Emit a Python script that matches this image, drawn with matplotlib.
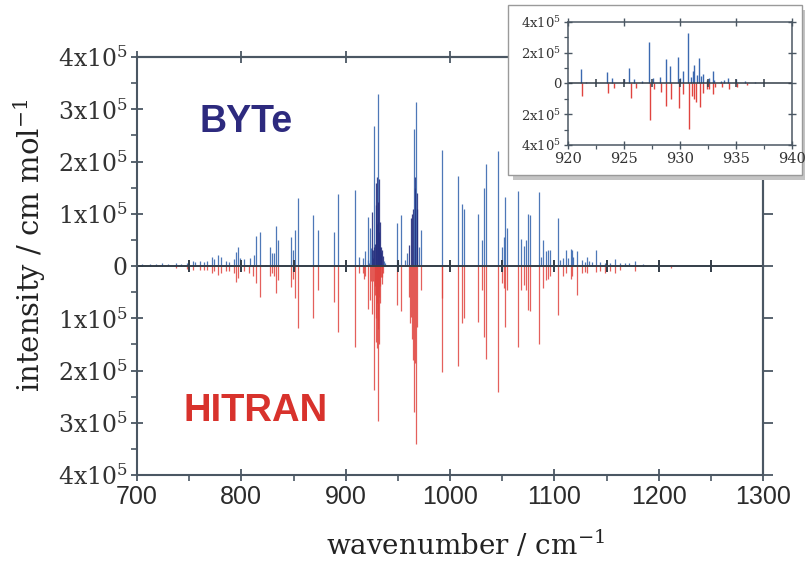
import numpy as np
import matplotlib
matplotlib.use("Agg")
import matplotlib.pyplot as plt
from matplotlib.patches import Rectangle
from matplotlib.ticker import MultipleLocator, FuncFormatter

plt.rcParams['mathtext.fontset'] = 'dejavuserif'

# BYTe line list (wavenumber / cm-1, intensity)
byte_wn = [705, 712, 718, 724, 730, 737.7, 742, 748, 753.7, 756, 760, 763.9, 767, 771.6, 774, 778, 780.5,
           785.6, 788.5, 792.7, 794.9, 796.8, 799, 802.9, 808.6, 811.8, 814.4, 817.6,
           827.8, 829, 831.6, 833.2, 835.1, 847.9, 849.2, 851.7, 854.3, 868.4, 873.2, 888.5, 893, 908.6,
           912.5, 916.3, 918.8,
           921.13, 921.61, 922.3, 923.45, 923.9, 925.0, 925.48, 925.89, 926.64, 927.26, 927.62, 928.21,
           928.72, 929.11, 929.85, 930.0, 930.24, 930.74, 930.95, 931.13, 931.28, 931.49, 931.73, 931.88,
           932.08, 932.38, 932.59, 932.92, 933.04, 933.67, 933.96, 934.32, 935.0, 935.8, 936.7, 937.5,
           948.8, 950.5, 952.7, 956.8, 958.5, 961, 962.6, 963.4, 964.2, 965.5, 966.0, 966.4, 967.4, 967.9,
           968.7, 970, 972.5,
           992.6, 1007.3, 1011.2, 1013.1, 1027.1, 1030.3, 1032.3, 1034.2, 1046.3, 1049.5, 1051.3, 1053,
           1054.6, 1065.5, 1068, 1070.6, 1072.5, 1074.4, 1076.3, 1085.3, 1087.2, 1089.4, 1091.6, 1093.6,
           1095.8, 1103.6, 1105.5, 1108, 1110.9, 1113.5, 1115.7, 1117, 1118.3, 1122.1, 1126.2, 1129.1,
           1131.7, 1133.6, 1135.8, 1139.7, 1143.8, 1148.6, 1153.4, 1158.2, 1163, 1168, 1172, 1177.4, 1185]
byte_int = [3000, 4000, 3500, 5000, 4000, 5000, 4000, 6000, 10000, 8000, 9000, 8000, 9000, 16600, 14000, 21000, 18000,
            10000, 8000, 14000, 27000, 37000, 15000, 13000, 15000, 22000, 58000, 66000,
            37000, 24000, 24000, 76600, 50000, 56000, 30000, 69000, 131000, 97600, 69000, 66000, 137000, 145000,
            18000, 15000, 29000,
            94600, 10750, 5000, 73000, 34400, 30000, 103000, 30000, 15000, 267000, 36500, 43000,
            159000, 116000, 170000, 36500, 80000, 330000, 43000, 84000, 122000, 58000, 166000, 47000,
            65000, 26000, 36500, 84000, 26000, 15000, 26000, 36500, 30000, 19000, 10000, 6000,
            82000, 8000, 98000, 11000, 24000, 40000, 91000, 100000, 110000, 263000, 150000, 171000, 313000, 140000,
            110000, 37000, 69000,
            222000, 173000, 119000, 109000, 99000, 50000, 150000, 196000, 220000, 37000, 56000, 133000,
            72000, 144000, 52000, 39000, 50000, 99000, 98000, 142000, 18000, 50000, 29000, 31000,
            31000, 91000, 11000, 15000, 31000, 15000, 32000, 31000, 18000, 29000, 11000, 8000,
            18000, 9600, 8000, 31000, 8000, 5000, 6000, 13400, 5000, 5000, 5000, 9600, 3000]

# HITRAN line list
hitran_wn = [737.7, 748, 753.7, 760, 763.9, 767, 771.6, 774, 778, 780.5, 785.6, 788.5, 792.7, 794.9, 796.8,
             802.9, 807, 811.2, 814.4, 817.6,
             827.8, 829, 831.6, 833.2, 835.1, 847.9, 849.2, 851.7, 854.3, 868.4, 873.2, 888.5, 893, 908.6,
             912.5, 916.3, 917.5, 918.8,
             921.25, 923.6, 924.11, 925.6, 926.07, 927.32, 927.71, 928.27, 928.75, 929.17, 929.91, 930.3,
             930.8, 931.04, 931.25, 931.43, 931.79, 932.08, 932.38, 932.59, 932.98, 933.13, 933.72, 934.4,
             935.06, 935.95,
             948.8, 952.7, 960.5, 961.5, 962.6, 963.3, 964.2, 965.5, 966.4, 967.4, 968.7, 972.5,
             992.0, 992.6, 1007.3, 1011.2, 1013.1, 1027.1, 1030.3, 1032.3, 1034.2, 1046.3, 1049.5, 1051.3,
             1053, 1054.6, 1065.5, 1068, 1070.6, 1072.5, 1074.4, 1076.3, 1085.3, 1089.4, 1091.6, 1093.6,
             1095.8, 1103.6, 1108, 1110.9, 1115.7, 1117, 1122.1, 1126.2, 1129.1, 1131.7, 1139.7, 1143.8,
             1148.6, 1153.4, 1158.2, 1163, 1177.4, 1212]
hitran_int = [4500, 6400, 7600, 7600, 7600, 7600, 14000, 9000, 17000, 14000, 9000, 9000, 14000, 30000, 23600,
              9000, 14000, 20000, 33000, 59000,
              20000, 14000, 20000, 51000, 27000, 40000, 24000, 62000, 118000, 100000, 46000, 68000, 126000, 155000,
              13000, 14000, 24000, 20000,
              81700, 64500, 28000, 92000, 28000, 236500, 38700, 55900, 146000, 99000, 157000, 71000,
              297000, 81700, 103000, 120000, 150000, 60000, 34000, 38700, 71000, 21500, 21500, 34400,
              21500, 13000,
              75000, 87000, 60000, 110000, 97000, 140000, 180000, 279000, 186000, 340000, 116000, 46000,
              62000, 202000, 192000, 110000, 100000, 107000, 46000, 135000, 178000, 241000, 33000, 43000,
              116000, 46000, 155000, 46000, 36000, 46000, 84000, 87000, 150000, 43000, 27000, 24000,
              20000, 94000, 20000, 14000, 24000, 20000, 55000, 14000, 11000, 14000, 11000, 9000,
              14000, 9000, 14000, 8000, 9000, 3000]

blue = '#3b69b0'
navy = '#27307f'
red = '#e0443f'
frame = '#4b5763'

byte_wn = np.array(byte_wn)
byte_int = np.array(byte_int)
hitran_wn = np.array(hitran_wn)
hitran_int = np.array(hitran_int)


def ylab(v, pos):
    if abs(v) < 1:
        return '0'
    return r'$%d\mathrm{x}10^{\mathregular{5}}$' % round(abs(v) / 1e5)


# dense band centres drawn darker, as in the original figure
dense = (((byte_wn > 925) & (byte_wn < 936)) | ((byte_wn > 960) & (byte_wn < 970))) & (byte_int < 200000)
byte_cols = [navy if d else blue for d in dense]

fig = plt.figure(figsize=(8.05, 5.67), dpi=100)
ax = fig.add_axes([137 / 805, 1 - 475 / 567, 626 / 805, 418 / 567])

ax.vlines(byte_wn, 0, byte_int, colors=byte_cols, lw=0.9, alpha=0.9)
ax.vlines(hitran_wn, 0, -hitran_int, colors=red, lw=0.9, alpha=0.85)
ax.axhline(0, color='#333d48', lw=1.4)
zt = np.arange(750, 1300, 50)
ax.plot(zt, np.zeros_like(zt), ls='none', marker='|', ms=9, mew=1.4, color='#333d48')

ax.set_xlim(700, 1300)
ax.set_ylim(-4e5, 4e5)
ax.xaxis.set_major_locator(MultipleLocator(100))
ax.xaxis.set_minor_locator(MultipleLocator(50))
ax.yaxis.set_major_locator(MultipleLocator(1e5))
ax.yaxis.set_minor_locator(MultipleLocator(0.5e5))
ax.yaxis.set_major_formatter(FuncFormatter(ylab))
for s in ax.spines.values():
    s.set_color(frame)
    s.set_linewidth(1.5)
ax.tick_params(which='major', direction='inout', length=9, width=1.3, color=frame, top=False, right=False)
ax.tick_params(which='minor', direction='out', length=4, width=1.2, color=frame, top=False, right=False)
ax.tick_params(axis='y', labelsize=17, labelcolor='#333333', pad=2)
ax.tick_params(axis='x', labelsize=18, labelcolor='#2b2b2b', pad=3)
for t in ax.get_xticklabels():
    t.set_family('Liberation Sans')
for t in ax.get_yticklabels():
    t.set_family('DejaVu Serif')

sec_r = ax.secondary_yaxis('right')
sec_r.yaxis.set_major_locator(MultipleLocator(1e5))
sec_r.tick_params(direction='out', length=7, width=1.3, color=frame, labelright=False)
sec_r.spines['right'].set_color(frame)
sec_r.spines['right'].set_linewidth(1.5)
sec_t = ax.secondary_xaxis('top')
sec_t.xaxis.set_major_locator(MultipleLocator(100))
sec_t.tick_params(direction='inout', length=9, width=1.3, color=frame, labeltop=False)
sec_t.spines['top'].set_color(frame)
sec_t.spines['top'].set_linewidth(1.5)

ax.set_xlabel(r'wavenumber / cm$^{-1}$', family='DejaVu Serif', fontsize=20, color='#222222')
ax.set_ylabel(r'intensity / cm mol$^{-1}$', family='DejaVu Serif', fontsize=21, color='#222222')
ax.xaxis.set_label_coords((465 - 137) / 626, -(530 - 475) / 418)
ax.yaxis.set_label_coords(-(137 - 48) / 626, (475 - 245) / 418)

ax.text(0.174, 0.845, 'BYTe', transform=ax.transAxes, ha='center', va='center',
        fontsize=27, fontweight='bold', family='Liberation Sans', color='#2d2a7e')
ax.text(0.19, 0.153, 'HITRAN', transform=ax.transAxes, ha='center', va='center',
        fontsize=27.5, fontweight='bold', family='Liberation Sans', color='#d8322c')

# inset frame with shadow
fig.patches.append(Rectangle((513 / 805, 1 - 180 / 567), 294 / 805, 170 / 567, transform=fig.transFigure,
                             facecolor='#c4c4c4', edgecolor='none', zorder=1))
fig.patches.append(Rectangle((508 / 805, 1 - 175 / 567), 294 / 805, 170 / 567, transform=fig.transFigure,
                             facecolor='white', edgecolor='#9a9a9a', lw=1.0, zorder=1.1))

axi = fig.add_axes([568 / 805, 1 - 145 / 567, 224 / 805, 123 / 567], zorder=2)
sel = (byte_wn > 919) & (byte_wn < 941)
axi.vlines(byte_wn[sel], 0, byte_int[sel], colors=blue, lw=1.0)
sel = (hitran_wn > 919) & (hitran_wn < 941)
axi.vlines(hitran_wn[sel], 0, -hitran_int[sel], colors=red, lw=1.0)
axi.axhline(0, color='#333d48', lw=1.1)
zt = np.arange(922.5, 940, 2.5)
axi.plot(zt, np.zeros_like(zt), ls='none', marker='|', ms=6, mew=1.1, color='#333d48')
axi.set_xlim(920, 940)
axi.set_ylim(-4e5, 4e5)
axi.xaxis.set_major_locator(MultipleLocator(5))
axi.xaxis.set_minor_locator(MultipleLocator(2.5))
axi.yaxis.set_major_locator(MultipleLocator(2e5))
axi.yaxis.set_minor_locator(MultipleLocator(1e5))
axi.yaxis.set_major_formatter(FuncFormatter(ylab))
for s in axi.spines.values():
    s.set_color(frame)
    s.set_linewidth(1.1)
axi.tick_params(which='major', direction='inout', length=6, width=1.0, color=frame, top=True, right=True,
                labelsize=9.5, labelcolor='#333333', pad=2)
axi.tick_params(axis='x', labelsize=10.5)
axi.tick_params(which='minor', direction='out', length=3, width=0.9, color=frame)
for t in axi.get_xticklabels() + axi.get_yticklabels():
    t.set_family('DejaVu Serif')

fig.savefig('out.png', dpi=100)
